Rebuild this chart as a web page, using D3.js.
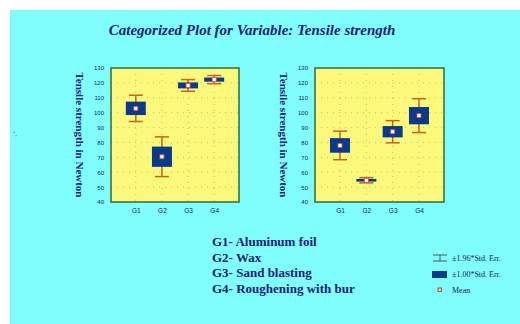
<!DOCTYPE html>
<html>
<head>
<meta charset="utf-8">
<script src="https://cdn.jsdelivr.net/npm/d3@7/dist/d3.min.js"></script>
<style>
  html, body { margin: 0; padding: 0; background: #ffffff; }
  svg { display: block; }
</style>
</head>
<body>
<svg id="chart" width="520" height="324"></svg>
<script>
// Groups and tick values
const categories = ["G1", "G2", "G3", "G4"];
const yTicks = [40, 50, 60, 70, 80, 90, 100, 110, 120, 130];

// Left panel: group means and standard errors
const meansA = [102.9, 70.4, 118.3, 122.2];
const seA = [4.5, 6.8, 2.0, 1.4];

// Right panel: group means and standard errors
const meansB = [78.0, 54.6, 87.2, 98.0];
const seB = [4.9, 0.9, 3.8, 5.8];

// Group descriptions
const groupNames = [
  "G1- Aluminum foil",
  "G2- Wax",
  "G3- Sand blasting",
  "G4- Roughening with bur"
];

const legendItems = ["\u00b11.96*Std. Err.", "\u00b11.00*Std. Err.", "Mean"];

const navy = "#18207a";
const boxFill = "#0a3a8c";
const whiskerColor = "#c2631f";
const serif = "'Liberation Serif', 'Times New Roman', serif";
const sans = "'Liberation Sans', Arial, sans-serif";

const svg = d3.select("#chart");

// Cyan page
svg.append("rect").attr("x", 10).attr("y", 10).attr("width", 510).attr("height", 314)
  .attr("fill", "#80fdfd");

// Title
svg.append("text")
  .attr("x", 252).attr("y", 35)
  .attr("text-anchor", "middle")
  .attr("font-family", serif).attr("font-weight", "bold").attr("font-style", "italic")
  .attr("font-size", 15).attr("fill", navy)
  .text("Categorized Plot for Variable: Tensile strength");

const plotTop = 68, plotBottom = 202;
const y = d3.scaleLinear().domain([40, 130]).range([plotBottom, plotTop]);

function drawPanel(x0, x1, means, ses, titleX) {
  const g = svg.append("g");
  const x = d3.scalePoint().domain(categories).range([x0, x1]).padding(0.95);

  g.append("rect").attr("x", x0).attr("y", plotTop)
    .attr("width", x1 - x0).attr("height", plotBottom - plotTop)
    .attr("fill", "#fcf87c");

  // dotted grid
  g.selectAll(".hg").data(yTicks.slice(1, -1)).enter().append("line")
    .attr("x1", x0).attr("x2", x1)
    .attr("y1", d => y(d)).attr("y2", d => y(d))
    .attr("stroke", "#b8b46a").attr("stroke-width", 0.8)
    .attr("stroke-dasharray", "1,5");
  g.selectAll(".vg").data(categories).enter().append("line")
    .attr("x1", d => x(d)).attr("x2", d => x(d))
    .attr("y1", plotTop).attr("y2", plotBottom)
    .attr("stroke", "#b8b46a").attr("stroke-width", 0.8)
    .attr("stroke-dasharray", "1,5");

  // y axis labels
  const yAxis = d3.axisLeft(y).tickValues(yTicks).tickSize(0).tickPadding(7);
  const ya = g.append("g").attr("transform", `translate(${x0},0)`).call(yAxis);
  ya.select(".domain").remove();
  ya.selectAll("text").attr("font-family", sans).attr("font-size", 6)
    .attr("fill", navy);

  // x axis labels
  const xAxis = d3.axisBottom(x).tickSize(0).tickPadding(6);
  const xa = g.append("g").attr("transform", `translate(0,${plotBottom})`).call(xAxis);
  xa.select(".domain").remove();
  xa.selectAll("text").attr("font-family", sans).attr("font-size", 6.5)
    .attr("fill", navy);

  const data = categories.map((c, i) => ({ c, m: means[i], se: ses[i] }));

  // whiskers at +/-1.96 SE
  const w = g.selectAll(".wh").data(data).enter().append("g");
  w.append("line")
    .attr("x1", d => x(d.c)).attr("x2", d => x(d.c))
    .attr("y1", d => y(d.m + 1.96 * d.se)).attr("y2", d => y(d.m - 1.96 * d.se))
    .attr("stroke", whiskerColor).attr("stroke-width", 1.5);
  w.append("line")
    .attr("x1", d => x(d.c) - 7).attr("x2", d => x(d.c) + 7)
    .attr("y1", d => y(d.m + 1.96 * d.se)).attr("y2", d => y(d.m + 1.96 * d.se))
    .attr("stroke", whiskerColor).attr("stroke-width", 1.5);
  w.append("line")
    .attr("x1", d => x(d.c) - 7).attr("x2", d => x(d.c) + 7)
    .attr("y1", d => y(d.m - 1.96 * d.se)).attr("y2", d => y(d.m - 1.96 * d.se))
    .attr("stroke", whiskerColor).attr("stroke-width", 1.5);

  // boxes at +/-1 SE
  g.selectAll(".bx").data(data).enter().append("rect")
    .attr("x", d => x(d.c) - 10).attr("width", 20)
    .attr("y", d => y(d.m + d.se))
    .attr("height", d => Math.max(2.5, y(d.m - d.se) - y(d.m + d.se)))
    .attr("fill", boxFill);

  // mean markers
  g.selectAll(".mn").data(data).enter().append("rect")
    .attr("x", d => x(d.c) - 2).attr("y", d => y(d.m) - 2)
    .attr("width", 4).attr("height", 4)
    .attr("fill", "#ffffff").attr("stroke", "#d2553a").attr("stroke-width", 0.8);

  // frame
  g.append("rect").attr("x", x0).attr("y", plotTop)
    .attr("width", x1 - x0).attr("height", plotBottom - plotTop)
    .attr("fill", "none").attr("stroke", "#2f6a3c").attr("stroke-width", 1.5);

  // y title
  g.append("text")
    .attr("transform", `translate(${titleX},${(plotTop + plotBottom) / 2}) rotate(90)`)
    .attr("text-anchor", "middle")
    .attr("font-family", serif).attr("font-weight", "bold")
    .attr("font-size", 11).attr("fill", navy)
    .text("Tensile strength in Newton");
}

drawPanel(111, 239, meansA, seA, 76);
drawPanel(315, 444, meansB, seB, 280);

// group descriptions
svg.selectAll(".gn").data(groupNames).enter().append("text")
  .attr("x", 212).attr("y", (d, i) => 246 + i * 15.6)
  .attr("font-family", serif).attr("font-weight", "bold")
  .attr("font-size", 13).attr("fill", navy)
  .text(d => d);

// legend
const lg = svg.append("g");
// whisker symbol
lg.append("line").attr("x1", 433).attr("x2", 447).attr("y1", 255).attr("y2", 255)
  .attr("stroke", "#555555").attr("stroke-width", 1);
lg.append("line").attr("x1", 433).attr("x2", 447).attr("y1", 261).attr("y2", 261)
  .attr("stroke", "#555555").attr("stroke-width", 1);
lg.append("line").attr("x1", 440).attr("x2", 440).attr("y1", 255).attr("y2", 261)
  .attr("stroke", "#555555").attr("stroke-width", 1);
// box symbol
lg.append("rect").attr("x", 432).attr("y", 271).attr("width", 15).attr("height", 7)
  .attr("fill", boxFill);
// mean symbol
lg.append("rect").attr("x", 438).attr("y", 288).attr("width", 3.5).attr("height", 3.5)
  .attr("fill", "#f4d8c8").attr("stroke", "#b03828").attr("stroke-width", 0.9);

lg.selectAll(".lt").data(legendItems).enter().append("text")
  .attr("x", 452).attr("y", (d, i) => [261, 277, 293][i])
  .attr("font-family", serif).attr("font-size", 8).attr("fill", navy)
  .text(d => d);

// small stray marks at the left edge
svg.append("text").attr("x", 13).attr("y", 136)
  .attr("font-family", serif).attr("font-size", 7).attr("fill", "#335577")
  .text("\u2018,");
</script>
</body>
</html>
